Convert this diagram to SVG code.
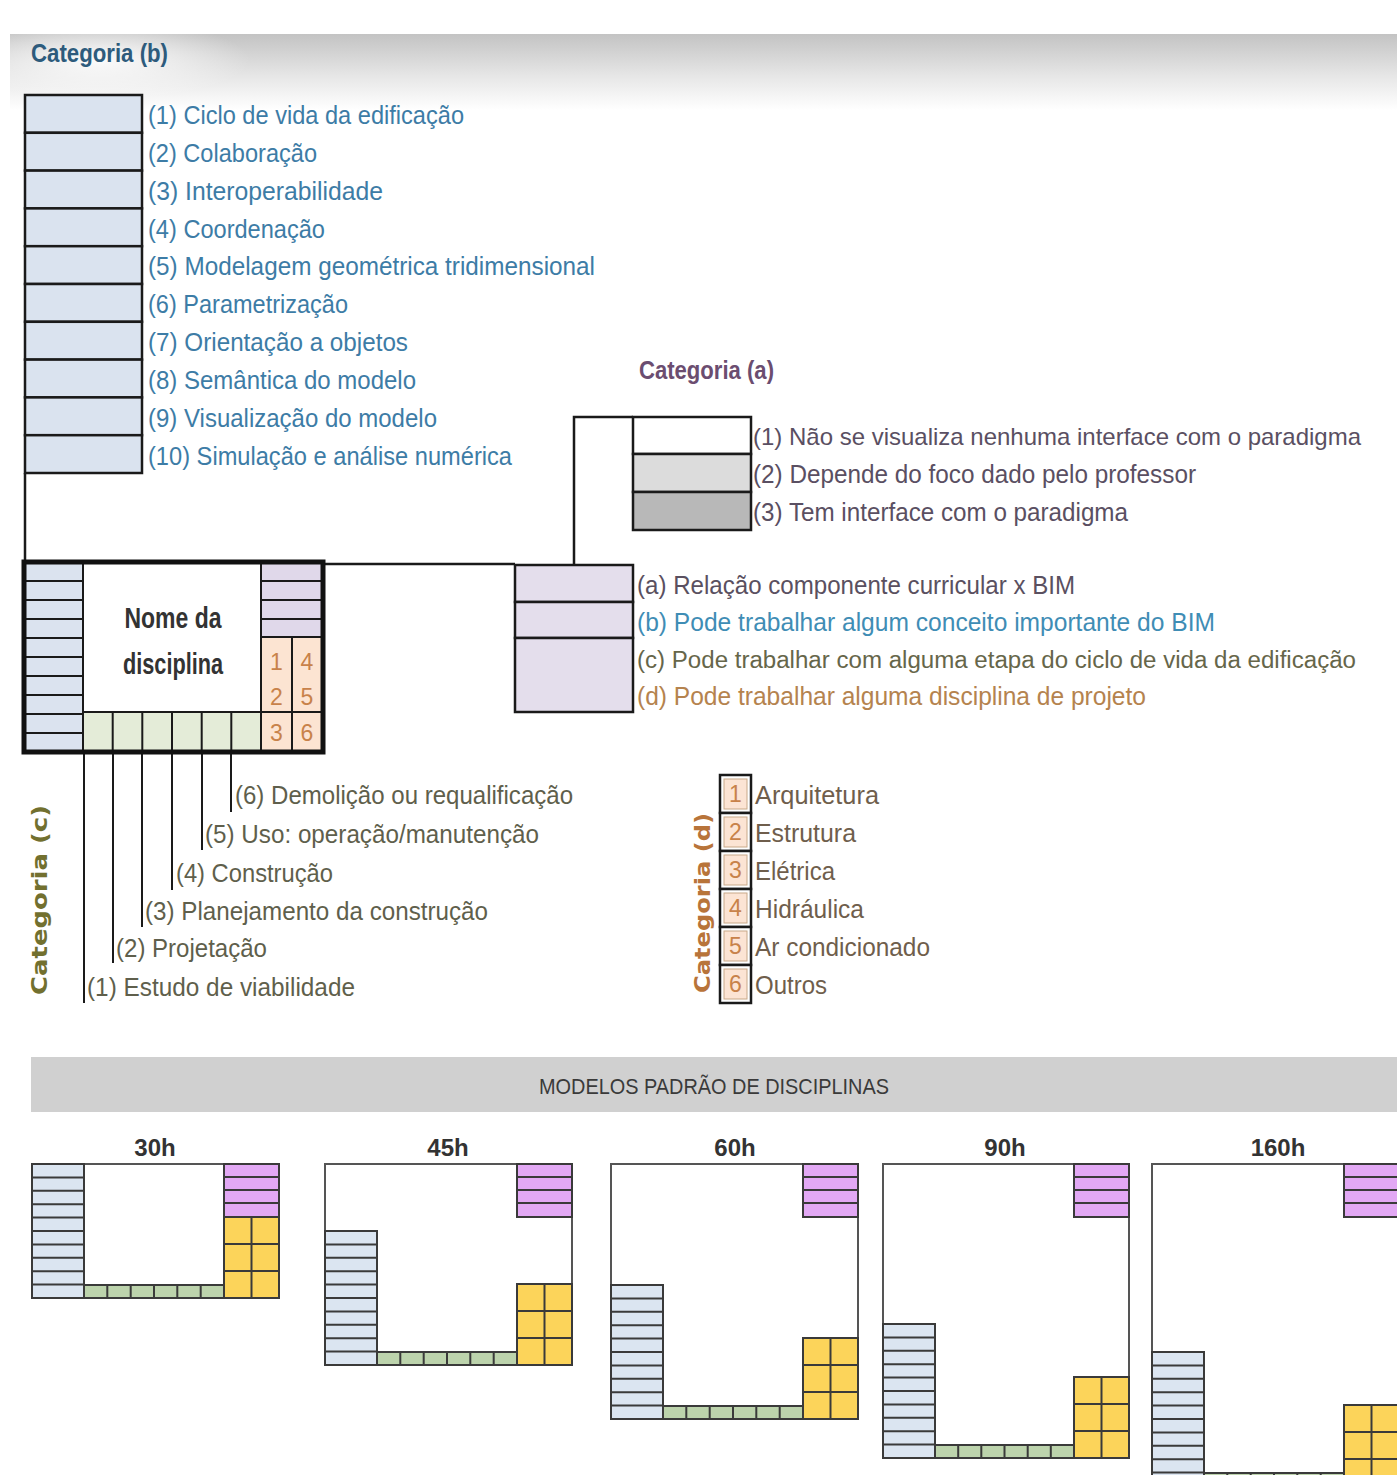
<svg xmlns="http://www.w3.org/2000/svg" width="1397" height="1475" viewBox="0 0 1397 1475">
<defs>
<linearGradient id="hdr" x1="0" y1="0" x2="0" y2="1">
<stop offset="0" stop-color="#c3c3c3"/>
<stop offset="0.55" stop-color="#e6e6e6"/>
<stop offset="1" stop-color="#ffffff"/>
</linearGradient>
<radialGradient id="glow" cx="0.5" cy="0.5" r="0.5">
<stop offset="0" stop-color="#ffffff" stop-opacity="0.9"/>
<stop offset="1" stop-color="#ffffff" stop-opacity="0"/>
</radialGradient>
<style>
.t{font-family:"Liberation Sans Narrow","Liberation Sans",Arial,sans-serif;font-size:26px}
.tb{font-family:"Liberation Sans Narrow","Liberation Sans",Arial,sans-serif;font-size:25px;font-weight:bold}
.rot{font-family:"DejaVu Sans","Liberation Sans",sans-serif;font-size:21px;font-weight:bold}
.cb{fill:#3d7ca6}
.ca{fill:#5a4f62}
.cc{fill:#5f5f4c}
.cd{fill:#6f5e4c}
.num{font-family:"Liberation Sans Narrow","Liberation Sans",Arial,sans-serif;font-size:23px;fill:#c8824a;text-anchor:middle}
.k{stroke:#1a1a1a;stroke-width:2.5;fill:none}
.kl{stroke:#1a1a1a;stroke-width:2;fill:none}
.m{stroke:#3a3a3a;stroke-width:2;fill:none}
.box{stroke:#1a1a1a;stroke-width:2.5}
.sk{stroke:#1a1a1a;stroke-width:2}
.mbox{fill:#ffffff;stroke:#555555;stroke-width:2}
.mb{fill:#dbe5f1;stroke:#3a3a3a;stroke-width:2}
.mp{fill:#e2a8f4;stroke:#3a3a3a;stroke-width:2}
.my{fill:#fcd45a;stroke:#3a3a3a;stroke-width:2}
.mg{fill:#bcd3ac;stroke:#3a3a3a;stroke-width:2}
.lab{font-family:"Liberation Sans Narrow","Liberation Sans",Arial,sans-serif;font-size:24px;font-weight:bold;fill:#333333;text-anchor:middle}
</style>
</defs>
<rect width="1397" height="1475" fill="#ffffff"/>
<g id="header">
<rect x="10" y="34" width="1387" height="76" fill="url(#hdr)"/>
<ellipse cx="100" cy="60" rx="150" ry="40" fill="url(#glow)"/>
</g>

<g id="connectors">
<path class="k" d="M25,473 V562"/>
<path class="k" d="M323,564 H515"/>
<path class="k" d="M574,583 V417 H633"/>
<path class="kl" d="M84,752 V1003 M113,752 V963 M142,752 V927 M172,752 V890 M202,752 V850 M231,752 V812"/>
</g>

<g id="cat-b">
<text class="tb" x="31" y="62" style="fill:#2d5b7c" textLength="137" lengthAdjust="spacingAndGlyphs">Categoria (b)</text>
<g fill="#dae3ef" class="box">
<rect x="25" y="95" width="117" height="37.8"/>
<rect x="25" y="132.8" width="117" height="37.8"/>
<rect x="25" y="170.6" width="117" height="37.8"/>
<rect x="25" y="208.4" width="117" height="37.8"/>
<rect x="25" y="246.2" width="117" height="37.8"/>
<rect x="25" y="284" width="117" height="37.8"/>
<rect x="25" y="321.8" width="117" height="37.8"/>
<rect x="25" y="359.6" width="117" height="37.8"/>
<rect x="25" y="397.4" width="117" height="37.8"/>
<rect x="25" y="435.2" width="117" height="37.8"/>
</g>
<g class="t cb">
<text x="148" y="124" textLength="316" lengthAdjust="spacingAndGlyphs">(1) Ciclo de vida da edificação</text>
<text x="148" y="162" textLength="169" lengthAdjust="spacingAndGlyphs">(2) Colaboração</text>
<text x="148" y="200" textLength="235" lengthAdjust="spacingAndGlyphs">(3) Interoperabilidade</text>
<text x="148" y="238" textLength="177" lengthAdjust="spacingAndGlyphs">(4) Coordenação</text>
<text x="148" y="275" textLength="447" lengthAdjust="spacingAndGlyphs">(5) Modelagem geométrica tridimensional</text>
<text x="148" y="313" textLength="200" lengthAdjust="spacingAndGlyphs">(6) Parametrização</text>
<text x="148" y="351" textLength="260" lengthAdjust="spacingAndGlyphs">(7) Orientação a objetos</text>
<text x="148" y="389" textLength="268" lengthAdjust="spacingAndGlyphs">(8) Semântica do modelo</text>
<text x="148" y="427" textLength="289" lengthAdjust="spacingAndGlyphs">(9) Visualização do modelo</text>
<text x="148" y="465" textLength="364" lengthAdjust="spacingAndGlyphs">(10) Simulação e análise numérica</text>
</g>
</g>

<g id="cat-a">
<text class="tb" x="639" y="379" style="fill:#6b4d70" textLength="135" lengthAdjust="spacingAndGlyphs">Categoria (a)</text>
<rect x="633" y="417" width="118" height="37" fill="#ffffff" class="box"/>
<rect x="633" y="454" width="118" height="38" fill="#dcdcdc" class="box"/>
<rect x="633" y="492" width="118" height="38" fill="#b8b8b8" class="box"/>
<g class="t ca">
<text x="753" y="445" style="font-size:24px" textLength="608" lengthAdjust="spacingAndGlyphs">(1) Não se visualiza nenhuma interface com o paradigma</text>
<text x="753" y="483" textLength="443" lengthAdjust="spacingAndGlyphs">(2) Depende do foco dado pelo professor</text>
<text x="753" y="521" textLength="375" lengthAdjust="spacingAndGlyphs">(3) Tem interface com o paradigma</text>
</g>
</g>

<g id="node-disciplina">
<rect x="24" y="562" width="299" height="190" fill="#ffffff"/>
<rect x="24" y="562" width="59" height="190" fill="#dbe3ef"/>
<path class="kl" d="M24,581 H83 M24,600 H83 M24,619 H83 M24,638 H83 M24,657 H83 M24,676 H83 M24,695 H83 M24,714 H83 M24,733 H83 M83,562 V752"/>
<rect x="261" y="562" width="62" height="75" fill="#e0d8ea" class="sk"/>
<path class="kl" d="M261,581 H323 M261,600 H323 M261,619 H323"/>
<rect x="261" y="637" width="62" height="115" fill="#fce4d2" class="sk"/>
<path class="kl" d="M292,637 V752 M261,712 H323"/>
<rect x="83" y="712" width="178" height="40" fill="#e4ecd8" class="sk"/>
<path class="kl" d="M112.7,712 V752 M142.3,712 V752 M172,712 V752 M201.7,712 V752 M231.3,712 V752"/>
<rect x="24" y="562" width="299" height="190" fill="none" stroke="#111111" stroke-width="5"/>
<text class="tb" x="173" y="628" text-anchor="middle" style="font-size:29px;fill:#333333" textLength="97" lengthAdjust="spacingAndGlyphs">Nome da</text>
<text class="tb" x="173" y="674" text-anchor="middle" style="font-size:29px;fill:#333333" textLength="100" lengthAdjust="spacingAndGlyphs">disciplina</text>
<text class="num" x="276.5" y="670">1</text>
<text class="num" x="307" y="670">4</text>
<text class="num" x="276.5" y="705">2</text>
<text class="num" x="307" y="705">5</text>
<text class="num" x="276.5" y="741">3</text>
<text class="num" x="307" y="741">6</text>
</g>

<g id="legend-relacao">
<rect x="515" y="565" width="118" height="37" fill="#e4deec" class="box"/>
<rect x="515" y="602" width="118" height="36" fill="#e4deec" class="box"/>
<rect x="515" y="638" width="118" height="74" fill="#e4deec" class="box"/>
<text class="t" x="637" y="594" style="fill:#5a5060" textLength="438" lengthAdjust="spacingAndGlyphs">(a) Relação componente curricular x BIM</text>
<text class="t" x="637" y="631" style="fill:#3f8db5" textLength="578" lengthAdjust="spacingAndGlyphs">(b) Pode trabalhar algum conceito importante do BIM</text>
<text class="t" x="637" y="668" style="fill:#66664a;font-size:23px" textLength="719" lengthAdjust="spacingAndGlyphs">(c) Pode trabalhar com alguma etapa do ciclo de vida da edificação</text>
<text class="t" x="637" y="705" style="fill:#b5834e" textLength="509" lengthAdjust="spacingAndGlyphs">(d) Pode trabalhar alguma disciplina de projeto</text>
</g>

<g id="cat-c">
<text class="rot" transform="translate(47,900) rotate(-90)" text-anchor="middle" style="fill:#72702f" textLength="190" lengthAdjust="spacingAndGlyphs">Categoria (c)</text>
<g class="t cc">
<text x="235" y="804" textLength="338" lengthAdjust="spacingAndGlyphs">(6) Demolição ou requalificação</text>
<text x="205" y="843" textLength="334" lengthAdjust="spacingAndGlyphs">(5) Uso: operação/manutenção</text>
<text x="176" y="882" textLength="157" lengthAdjust="spacingAndGlyphs">(4) Construção</text>
<text x="145" y="920" textLength="343" lengthAdjust="spacingAndGlyphs">(3) Planejamento da construção</text>
<text x="116" y="957" textLength="151" lengthAdjust="spacingAndGlyphs">(2) Projetação</text>
<text x="87" y="996" textLength="268" lengthAdjust="spacingAndGlyphs">(1) Estudo de viabilidade</text>
</g>
</g>

<g id="cat-d">
<text class="rot" transform="translate(710,903) rotate(-90)" text-anchor="middle" style="fill:#b8743a" textLength="180" lengthAdjust="spacingAndGlyphs">Categoria (d)</text>
<g fill="#ffffff" class="box">
<rect x="720" y="775" width="31" height="38"/>
<rect x="720" y="813" width="31" height="38"/>
<rect x="720" y="851" width="31" height="38"/>
<rect x="720" y="889" width="31" height="38"/>
<rect x="720" y="927" width="31" height="38"/>
<rect x="720" y="965" width="31" height="38"/>
</g>
<g fill="#fce4d4" stroke="#c8a888" stroke-width="1">
<rect x="724" y="779" width="23" height="30"/>
<rect x="724" y="817" width="23" height="30"/>
<rect x="724" y="855" width="23" height="30"/>
<rect x="724" y="893" width="23" height="30"/>
<rect x="724" y="931" width="23" height="30"/>
<rect x="724" y="969" width="23" height="30"/>
</g>
<text class="num" x="735.5" y="802">1</text>
<text class="num" x="735.5" y="840">2</text>
<text class="num" x="735.5" y="878">3</text>
<text class="num" x="735.5" y="916">4</text>
<text class="num" x="735.5" y="954">5</text>
<text class="num" x="735.5" y="992">6</text>
<g class="t cd">
<text x="755" y="804" textLength="124" lengthAdjust="spacingAndGlyphs">Arquitetura</text>
<text x="755" y="842" textLength="101" lengthAdjust="spacingAndGlyphs">Estrutura</text>
<text x="755" y="880" textLength="80" lengthAdjust="spacingAndGlyphs">Elétrica</text>
<text x="755" y="918" textLength="109" lengthAdjust="spacingAndGlyphs">Hidráulica</text>
<text x="755" y="956" textLength="175" lengthAdjust="spacingAndGlyphs">Ar condicionado</text>
<text x="755" y="994" textLength="72" lengthAdjust="spacingAndGlyphs">Outros</text>
</g>
</g>

<g id="modelos-title">
<rect x="31" y="1057" width="1366" height="55" fill="#d0d0d0"/>
<text class="t" x="714" y="1094" text-anchor="middle" style="font-size:22px;fill:#3a3a3a" textLength="350" lengthAdjust="spacingAndGlyphs">MODELOS PADRÃO DE DISCIPLINAS</text>
</g>

<g id="model-30h">
<text class="lab" x="155" y="1156">30h</text>
<rect class="mbox" x="32" y="1164" width="247" height="134"/>
<rect class="mb" x="32" y="1164" width="52" height="134"/>
<path class="m" d="M32,1177.4H84M32,1190.8H84M32,1204.2H84M32,1217.6H84M32,1231H84M32,1244.4H84M32,1257.8H84M32,1271.2H84M32,1284.6H84"/>
<rect class="mp" x="224" y="1164" width="55" height="53"/>
<path class="m" d="M224,1177H279M224,1190H279M224,1203H279"/>
<rect class="my" x="224" y="1217" width="55" height="81"/>
<path class="m" d="M251.5,1217V1298M224,1244H279M224,1271H279"/>
<rect class="mg" x="84" y="1285" width="140" height="13"/>
<path class="m" d="M107.3,1285V1298M130.7,1285V1298M154,1285V1298M177.3,1285V1298M200.7,1285V1298"/>
</g>

<g id="model-45h">
<text class="lab" x="448" y="1156">45h</text>
<rect class="mbox" x="325" y="1164" width="247" height="201"/>
<rect class="mb" x="325" y="1231" width="52" height="134"/>
<path class="m" d="M325,1244.4H377M325,1257.8H377M325,1271.2H377M325,1284.6H377M325,1298H377M325,1311.4H377M325,1324.8H377M325,1338.2H377M325,1351.6H377"/>
<rect class="mp" x="517" y="1164" width="55" height="53"/>
<path class="m" d="M517,1177H572M517,1190H572M517,1203H572"/>
<rect class="my" x="517" y="1284" width="55" height="81"/>
<path class="m" d="M544.5,1284V1365M517,1311H572M517,1338H572"/>
<rect class="mg" x="377" y="1352" width="140" height="13"/>
<path class="m" d="M400.3,1352V1365M423.7,1352V1365M447,1352V1365M470.3,1352V1365M493.7,1352V1365"/>
</g>

<g id="model-60h">
<text class="lab" x="735" y="1156">60h</text>
<rect class="mbox" x="611" y="1164" width="247" height="255"/>
<rect class="mb" x="611" y="1285" width="52" height="134"/>
<path class="m" d="M611,1298.4H663M611,1311.8H663M611,1325.2H663M611,1338.6H663M611,1352H663M611,1365.4H663M611,1378.8H663M611,1392.2H663M611,1405.6H663"/>
<rect class="mp" x="803" y="1164" width="55" height="53"/>
<path class="m" d="M803,1177H858M803,1190H858M803,1203H858"/>
<rect class="my" x="803" y="1338" width="55" height="81"/>
<path class="m" d="M830.5,1338V1419M803,1365H858M803,1392H858"/>
<rect class="mg" x="663" y="1406" width="140" height="13"/>
<path class="m" d="M686.3,1406V1419M709.7,1406V1419M733,1406V1419M756.3,1406V1419M779.7,1406V1419"/>
</g>

<g id="model-90h">
<text class="lab" x="1005" y="1156">90h</text>
<rect class="mbox" x="883" y="1164" width="246" height="294"/>
<rect class="mb" x="883" y="1324" width="52" height="134"/>
<path class="m" d="M883,1337.4H935M883,1350.8H935M883,1364.2H935M883,1377.6H935M883,1391H935M883,1404.4H935M883,1417.8H935M883,1431.2H935M883,1444.6H935"/>
<rect class="mp" x="1074" y="1164" width="55" height="53"/>
<path class="m" d="M1074,1177H1129M1074,1190H1129M1074,1203H1129"/>
<rect class="my" x="1074" y="1377" width="55" height="81"/>
<path class="m" d="M1101.5,1377V1458M1074,1404H1129M1074,1431H1129"/>
<rect class="mg" x="935" y="1445" width="139" height="13"/>
<path class="m" d="M958.2,1445V1458M981.3,1445V1458M1004.5,1445V1458M1027.7,1445V1458M1050.8,1445V1458"/>
</g>

<g id="model-160h">
<text class="lab" x="1278" y="1156">160h</text>
<rect class="mbox" x="1152" y="1164" width="247" height="322"/>
<rect class="mb" x="1152" y="1352" width="52" height="134"/>
<path class="m" d="M1152,1365.4H1204M1152,1378.8H1204M1152,1392.2H1204M1152,1405.6H1204M1152,1419H1204M1152,1432.4H1204M1152,1445.8H1204M1152,1459.2H1204M1152,1472.6H1204"/>
<rect class="mp" x="1344" y="1164" width="55" height="53"/>
<path class="m" d="M1344,1177H1399M1344,1190H1399M1344,1203H1399"/>
<rect class="my" x="1344" y="1405" width="55" height="81"/>
<path class="m" d="M1371.5,1405V1486M1344,1432H1399M1344,1459H1399"/>
<rect class="mg" x="1204" y="1473" width="140" height="13"/>
<path class="m" d="M1227.3,1473V1486M1250.7,1473V1486M1274,1473V1486M1297.3,1473V1486M1320.7,1473V1486"/>
</g>
</svg>
